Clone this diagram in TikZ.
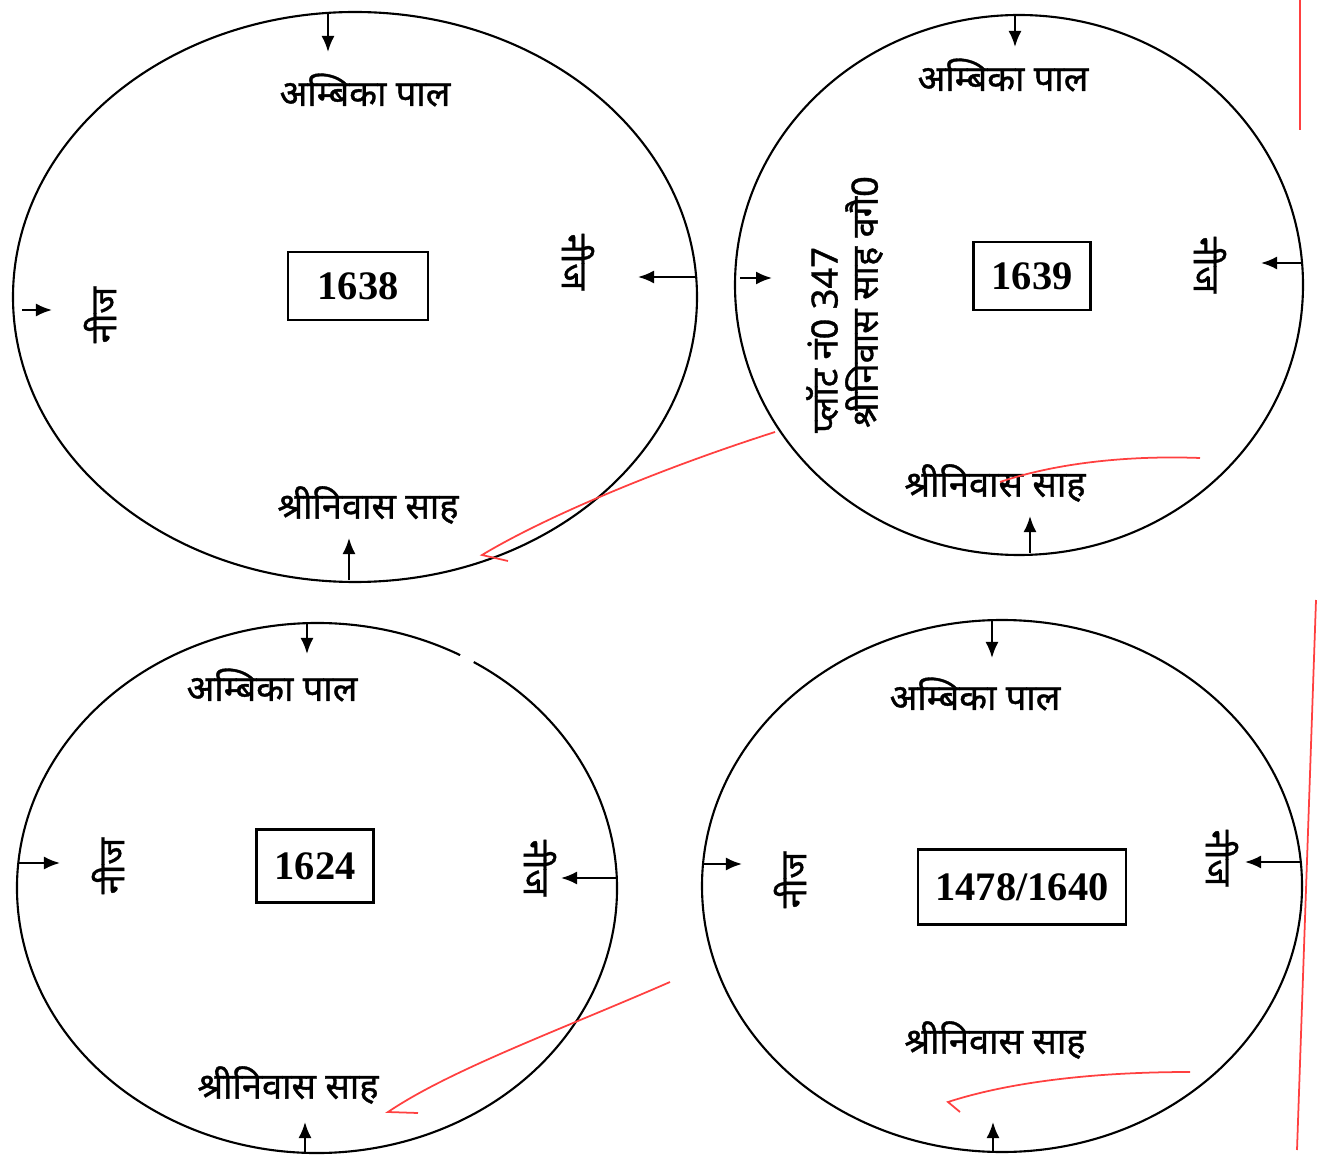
\documentclass[tikz,border=0pt]{standalone}
\usepackage{fontspec}
\usepackage{tikz}
\usetikzlibrary{arrows.meta}
\newfontfamily\hindi[Script=Devanagari, FakeBold=1]{Noto Sans}
\newfontfamily\numfont{Liberation Serif}

\tikzset{
    owner/.style={font=\hindi\fontsize{10.3}{12}\selectfont},
    plotno/.style={draw, line width=0.6pt, inner sep=0pt, font=\numfont\bfseries\fontsize{11.5}{14}\selectfont},
    upside/.style={owner, rotate=90},
    downside/.style={owner, rotate=-90},
    pen/.style={red!75!white, line width=0.5pt},
}

\begin{document}
\begin{tikzpicture}[x=0.01cm, y=-0.01cm, >={Latex[length=1.6mm, width=1.3mm]}, line width=0.6pt]
    \useasboundingbox (0,0) rectangle (1318,1161);

    % plot 1638
    \draw (355,297) ellipse (342 and 285);
    \node[owner] (n1) at (365,90) {अम्बिका पाल};
    \node[owner] (s1) at (368,505) {श्रीनिवास साह};
    \node[upside] (w1) at (100,315) {नीज};
    \node[downside] (e1) at (578,262) {नीज};
    \node[plotno, minimum width=1.4cm, minimum height=0.68cm] (p1) at (358,286) {1638};
    \coordinate (n1a) at (328,12);  \coordinate (n1b) at (328,52);
    \coordinate (s1a) at (349,580); \coordinate (s1b) at (349,538);
    \coordinate (w1a) at (22,310);  \coordinate (w1b) at (52,310);
    \coordinate (e1a) at (697,277); \coordinate (e1b) at (638,277);

    % plot 1639
    \draw (1019,285) ellipse (284 and 270);
    \node[owner] (n2) at (1003,75) {अम्बिका पाल};
    \node[owner] (s2) at (995,483) {श्रीनिवास साह};
    \node[downside] (e2) at (1210,265) {नीज};
    \node[upside] (w2) at (822,340) {प्लॉट नं0 347};
    \node[upside] (w2b) at (864,302) {श्रीनिवास साह वगै0};
    \node[plotno, minimum width=1.17cm, minimum height=0.68cm] (p2) at (1032,276) {1639};
    \coordinate (n2a) at (1015,15);  \coordinate (n2b) at (1015,47);
    \coordinate (s2a) at (1030,553); \coordinate (s2b) at (1030,516);
    \coordinate (w2a) at (740,278);  \coordinate (w2b) at (772,278);
    \coordinate (e2a) at (1303,263); \coordinate (e2b) at (1261,263);

    % plot 1624 (outline broken near the top right)
    \draw (317,888) ++(-58.5:300 and 265)
        arc [start angle=-58.5, end angle=298.5, x radius=300, y radius=265];
    \node[owner] (n3) at (272,685) {अम्बिका पाल};
    \node[owner] (s3) at (288,1085) {श्रीनिवास साह};
    \node[upside] (w3) at (108,866) {नीज};
    \node[downside] (e3) at (540,868) {नीज};
    \node[plotno, minimum width=1.17cm, minimum height=0.73cm] (p3) at (315,866) {1624};
    \coordinate (n3a) at (307,624);  \coordinate (n3b) at (307,654);
    \coordinate (s3a) at (305,1152); \coordinate (s3b) at (305,1122);
    \coordinate (w3a) at (19,863);   \coordinate (w3b) at (60,863);
    \coordinate (e3a) at (617,878);  \coordinate (e3b) at (561,878);

    % plot 1478/1640
    \draw (1002,886) ellipse (300 and 266);
    \node[owner] (n4) at (975,694) {अम्बिका पाल};
    \node[owner] (s4) at (995,1040) {श्रीनिवास साह};
    \node[upside] (w4) at (790,880) {नीज};
    \node[downside] (e4) at (1222,858) {नीज};
    \node[plotno, minimum width=2.08cm, minimum height=0.75cm] (p4) at (1022,887) {1478/1640};
    \coordinate (n4a) at (992,621);  \coordinate (n4b) at (992,658);
    \coordinate (s4a) at (993,1152); \coordinate (s4b) at (993,1122);
    \coordinate (w4a) at (703,864);  \coordinate (w4b) at (742,864);
    \coordinate (e4a) at (1302,862); \coordinate (e4b) at (1245,862);

    \foreach \i in {1,2,3,4} {
        \path (n\i a) edge [->] (n\i b)
              (s\i a) edge [->] (s\i b)
              (w\i a) edge [->] (w\i b)
              (e\i a) edge [->] (e\i b);
    }

    % red pen marks
    \draw[pen] (775,432) .. controls (650,472) and (540,520) .. (482,555) -- (508,561);
    \draw[pen] (1200,458) .. controls (1120,455) and (1050,465) .. (1000,482);
    \draw[pen] (670,982) .. controls (560,1030) and (450,1070) .. (388,1112) -- (418,1113);
    \draw[pen] (1190,1072) .. controls (1080,1072) and (1000,1085) .. (948,1102) -- (960,1112);
    \draw[pen] (1300,0) -- (1300,130);
    \draw[pen] (1316,600) -- (1297,1150);
\end{tikzpicture}
\end{document}
